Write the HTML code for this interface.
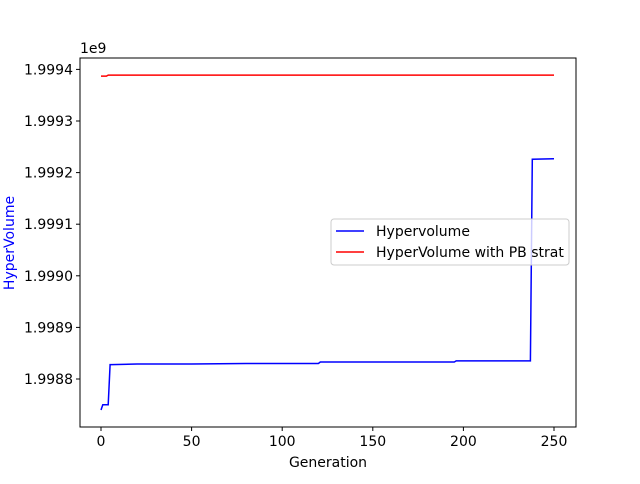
<!DOCTYPE html>
<html><head><meta charset="utf-8"><style>
body{margin:0;background:#fff;font-family:"DejaVu Sans","Liberation Sans",sans-serif}
svg text{font-family:"DejaVu Sans","Liberation Sans",sans-serif;font-size:14px}
</style></head><body>
<svg id="c" width="640" height="480" xmlns="http://www.w3.org/2000/svg"></svg>
<script>
const xTicks=[0,50,100,150,200,250];
const yTicks=[1.9988,1.9989,1.9990,1.9991,1.9992,1.9993,1.9994];
const yTickLabels=["1.9988","1.9989","1.9990","1.9991","1.9992","1.9993","1.9994"];
const hvGen=[0,1,2,4,5,6,20,50,80,104,120,121,122,195,196,236,237,238,250];
const hvVal=[1998740000,1998750000,1998750000,1998750000,1998828000,1998828000,1998829000,1998829000,1998830000,1998830000,1998830000,1998833000,1998833000,1998833000,1998835000,1998835000,1998835000,1999226000,1999227000];
const pbGen=[0,3,4,5,250];
const pbVal=[1999387000,1999387000,1999389000,1999389000,1999389000];
const L=80,R=576,T=58,B=427;
const X=g=>101+(g-0)*(453/250);
const Y=v=>379-(v/1e9-1.9988)*1e4*51.6;
const svg=document.getElementById('c');
const NS='http://www.w3.org/2000/svg';
function mk(t,a,txt){const e=document.createElementNS(NS,t);for(const k in a)e.setAttribute(k,a[k]);if(txt!==undefined)e.textContent=txt;svg.appendChild(e);return e;}
let e=mk('rect',{x:L,y:T,width:R-L,height:B-T,fill:'none',stroke:'#000','stroke-width':1});

xTicks.forEach(t=>{const x=X(t);
 let l=mk('line',{x1:x,x2:x,y1:B,y2:B+4,stroke:'#000'});
 let s=mk('text',{x:x,y:B+19,'text-anchor':'middle'},t);});
yTicks.forEach((t,i)=>{const y=Y(t*1e9);
 let l=mk('line',{x1:L-4,x2:L,y1:y,y2:y,stroke:'#000'});
 let s=mk('text',{x:L-7,y:y+5,'text-anchor':'end'},yTickLabels[i]);});
e=mk('text',{x:80,y:53},'1e9');
e=mk('text',{x:328,y:467,'text-anchor':'middle'},'Generation');
e=mk('text',{x:14,y:243,'text-anchor':'middle',fill:'blue',transform:'rotate(-90 14 243)'},'HyperVolume');
function line(g,v,c,n){const p=g.map((x,i)=>X(x).toFixed(1)+','+Y(v[i]).toFixed(1)).join(' ');
 const el=mk('polyline',{points:p,fill:'none',stroke:c,'stroke-width':1.5});}
line(hvGen,hvVal,'blue','hypervolume-line');
line(pbGen,pbVal,'red','pb-strat-line');
e=mk('rect',{x:331,y:219,width:238,height:46,rx:3,fill:'rgba(255,255,255,0.8)',stroke:'#ccc'});
e=mk('line',{x1:336,x2:364,y1:231,y2:231,stroke:'blue','stroke-width':1.5});
e=mk('text',{x:376,y:236},'Hypervolume');
e=mk('line',{x1:336,x2:364,y1:252,y2:252,stroke:'red','stroke-width':1.5});
e=mk('text',{x:376,y:257},'HyperVolume with PB strat');
</script>
</body></html>
